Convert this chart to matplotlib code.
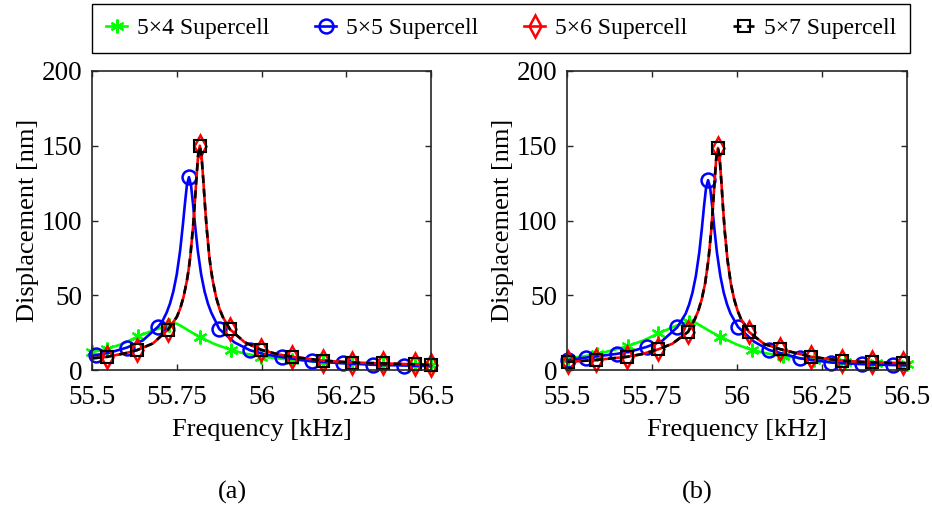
import numpy as np
import matplotlib
matplotlib.use("Agg")
import matplotlib.pyplot as plt

plt.rcParams['font.family'] = ['Liberation Serif', 'DejaVu Serif']
plt.rcParams['mathtext.fontset'] = 'stix'

series_names = ["5\u00d74 Supercell", "5\u00d75 Supercell", "5\u00d76 Supercell", "5\u00d77 Supercell"]
xtick_vals = [55.5, 55.75, 56.0, 56.25, 56.5]
xtick_labels = ["55.5", "55.75", "56", "56.25", "56.5"]
ytick_vals = [0, 50, 100, 150, 200]

# ---------------- panel (a) ----------------
freq_a_5x4 = [55.5, 55.544, 55.59, 55.636, 55.68, 55.727, 55.74, 55.75, 55.77, 55.795, 55.819,
              55.86, 55.909, 55.95, 55.999, 56.09, 56.18, 56.267, 56.358, 56.453, 56.5]
disp_a_5x4 = [12.0, 14.0, 17.5, 22.5, 26.5, 30.0, 31.5, 31.0, 28.5, 25.0, 22.0,
              17.5, 13.5, 11.0, 9.0, 6.8, 5.3, 4.4, 3.8, 3.3, 3.1]
mark_a_5x4 = [55.5, 55.544, 55.636, 55.727, 55.819, 55.909, 55.999, 56.09, 56.18,
              56.267, 56.358, 56.453, 56.5]

freq_a_5x5 = [55.5, 55.512, 55.55, 55.603, 55.65, 55.695, 55.708, 55.72, 55.73, 55.74, 55.75,
              55.76, 55.768, 55.774, 55.78, 55.786, 55.792, 55.798, 55.804, 55.812, 55.822,
              55.832, 55.842, 55.852, 55.864, 55.875, 55.92, 55.966, 56.01, 56.06, 56.149,
              56.24, 56.329, 56.42, 56.5]
disp_a_5x5 = [9.4, 10.0, 11.5, 15.0, 19.8, 29.0, 32.8, 38.3, 44.4, 52.6, 63.9,
              79.9, 97.0, 111.0, 123.8, 129.0, 123.8, 111.0, 97.0, 79.9, 63.9,
              52.6, 44.4, 38.3, 32.8, 27.5, 18.5, 13.2, 10.5, 8.6, 5.8,
              4.5, 3.5, 3.0, 2.6]
mark_a_5x5 = [55.512, 55.603, 55.695, 55.786, 55.875, 55.966, 56.06, 56.149, 56.24,
              56.329, 56.42]

freq_a_5x6 = [55.5, 55.544, 55.6, 55.633, 55.68, 55.724, 55.75, 55.76, 55.77, 55.78, 55.785,
              55.79, 55.798, 55.803, 55.808, 55.813, 55.818, 55.823, 55.828, 55.833, 55.838,
              55.846, 55.851, 55.856, 55.866, 55.876, 55.886, 55.907, 55.95, 55.999, 56.05,
              56.09, 56.18, 56.267, 56.358, 56.453, 56.5]
disp_a_5x6 = [7.8, 8.8, 11.3, 13.3, 17.8, 27.0, 35.4, 41.0, 48.8, 59.8, 67.0,
              76.0, 95.5, 111.0, 128.0, 143.5, 150.0, 143.5, 128.0, 111.0, 95.5,
              76.0, 67.0, 60.0, 48.8, 41.0, 35.4, 27.2, 18.6, 13.5, 10.4,
              8.9, 6.3, 5.0, 4.4, 3.8, 3.3]
mark_a_5x6 = [55.544, 55.633, 55.724, 55.818, 55.907, 55.999, 56.09, 56.18, 56.267,
              56.358, 56.453, 56.5]

freq_a_5x7 = list(freq_a_5x6)
disp_a_5x7 = [7.8, 8.8, 11.3, 13.3, 17.8, 27.0, 35.4, 41.0, 48.8, 59.8, 67.0,
              76.0, 95.5, 111.0, 128.0, 143.5, 150.0, 143.5, 128.0, 111.0, 95.5,
              76.0, 67.0, 60.0, 48.8, 41.0, 35.4, 27.2, 18.6, 13.5, 10.4,
              8.9, 6.3, 5.0, 4.4, 3.8, 3.3]
mark_a_5x7 = list(mark_a_5x6)

# ---------------- panel (b) ----------------
freq_b_5x4 = [55.5, 55.503, 55.587, 55.68, 55.725, 55.769, 55.82, 55.86, 55.868, 55.89, 55.92,
              55.95, 56.0, 56.043, 56.09, 56.135, 56.226, 56.318, 56.41, 56.5]
disp_b_5x4 = [7.5, 7.6, 10.5, 16.0, 19.8, 24.5, 29.5, 32.3, 33.0, 30.0, 26.0,
              22.3, 17.0, 13.4, 11.0, 9.2, 6.9, 5.5, 4.6, 4.0]
mark_b_5x4 = [55.503, 55.587, 55.68, 55.769, 55.86, 55.95, 56.043, 56.135, 56.226,
              56.318, 56.41, 56.5]

freq_b_5x5 = [55.5, 55.503, 55.556, 55.6, 55.647, 55.69, 55.735, 55.78, 55.824, 55.849, 55.859,
              55.869, 55.879, 55.889, 55.897, 55.903, 55.909, 55.915, 55.921, 55.927, 55.933,
              55.941, 55.951, 55.961, 55.971, 55.981, 56.003, 56.05, 56.094, 56.185, 56.276,
              56.368, 56.459, 56.5]
disp_b_5x5 = [6.5, 6.6, 8.3, 9.5, 10.8, 12.6, 15.5, 19.5, 28.5, 37.7, 43.7,
              51.7, 62.9, 78.6, 95.4, 109.6, 121.9, 127.0, 121.9, 109.6, 95.4,
              78.6, 62.9, 51.7, 43.7, 37.7, 28.8, 19.0, 13.4, 7.8, 5.0,
              3.9, 3.3, 3.1]
mark_b_5x5 = [55.503, 55.556, 55.647, 55.735, 55.824, 55.915, 56.003, 56.094, 56.185,
              56.276, 56.368, 56.459]

freq_b_5x6 = [55.5, 55.503, 55.585, 55.676, 55.72, 55.768, 55.81, 55.856, 55.876, 55.886, 55.896,
              55.906, 55.916, 55.924, 55.929, 55.934, 55.939, 55.944, 55.949, 55.954, 55.959,
              55.964, 55.972, 55.982, 55.992, 56.002, 56.012, 56.035, 56.08, 56.126, 56.218,
              56.309, 56.397, 56.488, 56.5]
disp_b_5x6 = [5.3, 5.4, 6.7, 8.8, 10.6, 13.8, 17.6, 25.5, 34.0, 39.5, 47.0,
              57.6, 73.7, 92.8, 108.3, 125.9, 141.7, 148.5, 141.7, 125.9, 108.3,
              92.8, 73.7, 57.6, 47.0, 39.5, 34.0, 25.5, 17.4, 14.0, 8.8,
              6.2, 5.1, 4.6, 4.5]
mark_b_5x6 = [55.503, 55.585, 55.676, 55.768, 55.856, 55.944, 56.035, 56.126, 56.218,
              56.309, 56.397, 56.488]

freq_b_5x7 = list(freq_b_5x6)
disp_b_5x7 = [5.3, 5.4, 6.7, 8.8, 10.6, 13.8, 17.6, 25.5, 34.0, 39.5, 47.0,
              57.6, 73.7, 92.8, 108.3, 125.9, 141.7, 148.5, 141.7, 125.9, 108.3,
              92.8, 73.7, 57.6, 47.0, 39.5, 34.0, 25.5, 17.4, 14.0, 8.8,
              6.2, 5.1, 4.6, 4.5]
mark_b_5x7 = list(mark_b_5x6)

panel_a = [(freq_a_5x4, disp_a_5x4, mark_a_5x4), (freq_a_5x5, disp_a_5x5, mark_a_5x5),
           (freq_a_5x6, disp_a_5x6, mark_a_5x6), (freq_a_5x7, disp_a_5x7, mark_a_5x7)]
panel_b = [(freq_b_5x4, disp_b_5x4, mark_b_5x4), (freq_b_5x5, disp_b_5x5, mark_b_5x5),
           (freq_b_5x6, disp_b_5x6, mark_b_5x6), (freq_b_5x7, disp_b_5x7, mark_b_5x7)]

asterisk = (6, 2, 0)
styles = [
    dict(color='#00ff00', ls='-', marker=asterisk, ms=10, mew=1.6, mfc='none'),
    dict(color='#0000ff', ls='-', marker='o', ms=10, mew=1.8, mfc='none'),
    dict(color='#ff0000', ls='-', marker='d', ms=11, mew=1.8, mfc='none'),
    dict(color='#000000', ls=(0, (3.0, 2.2)), marker='s', ms=8.5, mew=1.5, mfc='none'),
]

W, H = 932, 509
fig = plt.figure(figsize=(W / 100, H / 100), dpi=100)

axes_px = [(92, 71, 431, 370), (567, 71, 907, 370)]
captions = [("(a)", 232), ("(b)", 697)]
axis_color = '#262626'

handles = []
for (x0, y0, x1, y1), panel, (cap, cx) in zip(axes_px, [panel_a, panel_b], captions):
    ax = fig.add_axes([x0 / W, 1 - y1 / H, (x1 - x0) / W, (y1 - y0) / H])
    hs = []
    for (f, d, m), st, name in zip(panel, styles, series_names):
        f = np.asarray(f)
        idx = [int(np.argmin(np.abs(f - mm))) for mm in m]
        h, = ax.plot(f, d, lw=1.9, markevery=idx, label=name, clip_on=False, **st)
        hs.append(h)
    handles = hs
    ax.set_xlim(55.5, 56.5)
    ax.set_ylim(0, 200)
    ax.set_xticks(xtick_vals)
    ax.set_xticklabels(xtick_labels)
    ax.set_yticks(ytick_vals)
    ax.tick_params(axis='x', pad=11)
    ax.tick_params(axis='y', pad=7)
    ax.tick_params(direction='in', length=4, width=1, top=True, right=True,
                   labelsize=19.5, colors=axis_color, labelcolor='black')
    for sp in ax.spines.values():
        sp.set_color(axis_color)
        sp.set_linewidth(1.2)
    ax.set_xlabel("Frequency [kHz]", fontsize=19, labelpad=6)
    ax.set_ylabel("Displacement [nm]", fontsize=19, labelpad=2)
    fig.text(cx / W, 1 - 492 / H, cap, fontsize=19, ha='center', va='center')

leg = fig.legend(handles=handles, labels=series_names, loc='center', ncol=4,
                 bbox_to_anchor=(501 / W, 1 - 28.5 / H), fontsize=17,
                 frameon=True, fancybox=False, framealpha=1, edgecolor='black',
                 handlelength=0.9, handletextpad=0.4, columnspacing=1.95,
                 borderpad=0.6, borderaxespad=0)
leg.get_frame().set_linewidth(1.0)

fig.savefig("out.png", dpi=100)
